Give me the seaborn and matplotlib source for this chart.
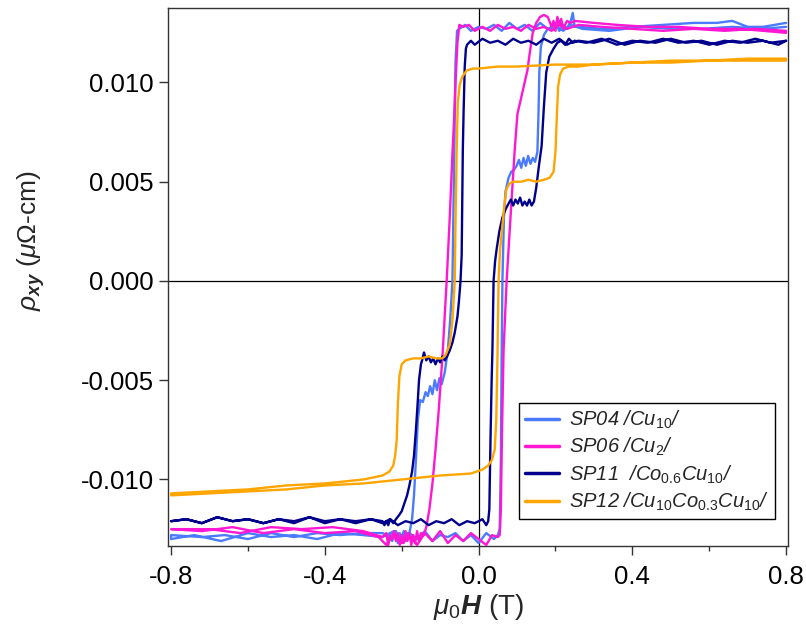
import matplotlib
matplotlib.use("Agg")
import matplotlib.pyplot as plt
import seaborn as sns
import pandas as pd
from matplotlib.ticker import FixedLocator

# ---------------- data ----------------
# SP04 /Cu10/
SP04_H_down = [0.80, 0.74, 0.66, 0.58, 0.50, 0.42, 0.34, 0.27, 0.24, 0.22, 0.20, 0.18, 0.16, 0.14, 0.12, 0.10, 0.08, 0.06, 0.04, 0.02, 0.00, -0.02, -0.035, -0.050,
               -0.056, -0.060, -0.063, -0.066, -0.068, -0.074, -0.080, -0.088, -0.096, -0.102, -0.108, -0.114, -0.120, -0.126, -0.132, -0.138, -0.145, -0.152, -0.158, -0.163, -0.168, -0.173, -0.180,
               -0.185, -0.19, -0.195, -0.20, -0.205, -0.21, -0.215, -0.22, -0.225, -0.23, -0.235, -0.24, -0.25, -0.30, -0.36, -0.42, -0.48, -0.54, -0.60, -0.66, -0.72, -0.80]
SP04_R_down = [0.0128, 0.0127, 0.0128, 0.0127, 0.0127, 0.0128, 0.0126, 0.0127, 0.0129, 0.0126, 0.0129, 0.0127, 0.0130, 0.0126, 0.0129, 0.0127, 0.0130, 0.0126, 0.0129, 0.0127, 0.0128, 0.0126, 0.0129, 0.0127,
               0.0126, 0.0110, 0.0070, 0.0030, 0.0000, -0.0020, -0.0035, -0.0046, -0.0052, -0.0049, -0.0055, -0.0050, -0.0057, -0.0053, -0.0058, -0.0056, -0.0061, -0.0060, -0.0070, -0.0090, -0.0108, -0.0120, -0.0127,
               -0.0127, -0.0131, -0.0126, -0.0130, -0.0127, -0.0132, -0.0126, -0.0129, -0.0131, -0.0127, -0.0130, -0.0128, -0.0127, -0.0127, -0.0128, -0.0127, -0.0129, -0.0127, -0.0130, -0.0128, -0.0129, -0.0128]
SP04_H_up = [-0.80, -0.74, -0.67, -0.60, -0.54, -0.48, -0.42, -0.36, -0.30, -0.25, -0.22, -0.20, -0.18, -0.16, -0.14, -0.12, -0.10, -0.08, -0.06, -0.04, -0.02, 0.00, 0.02, 0.04, 0.05,
             0.055, 0.058, 0.060, 0.062, 0.066, 0.070, 0.078, 0.085, 0.092, 0.099, 0.105, 0.111, 0.117, 0.123, 0.129, 0.135, 0.141, 0.147, 0.153, 0.156, 0.158, 0.162, 0.170, 0.180,
             0.19, 0.20, 0.21, 0.22, 0.23, 0.24, 0.245, 0.25, 0.27, 0.32, 0.40, 0.48, 0.56, 0.62, 0.66, 0.70, 0.74, 0.80]
SP04_R_up = [-0.0130, -0.0128, -0.0131, -0.0127, -0.0129, -0.0128, -0.0130, -0.0127, -0.0128, -0.0129, -0.0126, -0.0131, -0.0127, -0.0130, -0.0126, -0.0131, -0.0128, -0.0129, -0.0127, -0.0131, -0.0128, -0.0132, -0.0127, -0.0130, -0.0128,
             -0.0125, -0.0090, -0.0040, 0.0000, 0.0032, 0.0045, 0.0052, 0.0055, 0.0056, 0.0058, 0.0061, 0.0057, 0.0062, 0.0058, 0.0063, 0.0059, 0.0062, 0.0060, 0.0065, 0.0085, 0.0105, 0.0118, 0.0124, 0.0127,
             0.0127, 0.0130, 0.0126, 0.0129, 0.0127, 0.0131, 0.0135, 0.0128, 0.0128, 0.0127, 0.0128, 0.0129, 0.0130, 0.0130, 0.0131, 0.0128, 0.0128, 0.0130]

# SP06 /Cu2/
SP06_H_down = [0.80, 0.72, 0.64, 0.56, 0.48, 0.40, 0.32, 0.26, 0.23, 0.21, 0.19, 0.17, 0.15, 0.13, 0.11, 0.09, 0.07, 0.05, 0.03, 0.01, -0.01, -0.025, -0.040,
               -0.050, -0.055, -0.060, -0.064, -0.068, -0.075, -0.083, -0.094, -0.104, -0.112, -0.120, -0.128, -0.135, -0.142,
               -0.15, -0.155, -0.16, -0.165, -0.17, -0.175, -0.18, -0.185, -0.19, -0.195, -0.20, -0.205, -0.21, -0.215, -0.22, -0.225, -0.23, -0.235, -0.24, -0.25, -0.30, -0.38, -0.46, -0.54, -0.62, -0.70, -0.80]
SP06_R_down = [0.0126, 0.0127, 0.0126, 0.0127, 0.0126, 0.0127, 0.0128, 0.0129, 0.0127, 0.0129, 0.0126, 0.0128, 0.0127, 0.0129, 0.0126, 0.0128, 0.0127, 0.0129, 0.0126, 0.0128, 0.0126, 0.0129, 0.0128,
               0.0129, 0.0120, 0.0100, 0.0080, 0.0064, 0.0032, 0.0000, -0.0038, -0.0066, -0.0085, -0.0102, -0.0115, -0.0123, -0.0128,
               -0.0127, -0.0131, -0.0126, -0.0132, -0.0128, -0.0133, -0.0127, -0.0131, -0.0126, -0.0132, -0.0128, -0.0133, -0.0127, -0.0131, -0.0126, -0.0130, -0.0128, -0.0133, -0.0127, -0.0129, -0.0126, -0.0124, -0.0125, -0.0124, -0.0127, -0.0125, -0.0125]
SP06_H_up = [-0.80, -0.72, -0.64, -0.56, -0.48, -0.40, -0.32, -0.26, -0.24, -0.22, -0.20, -0.18, -0.16, -0.14, -0.12, -0.10, -0.08, -0.06, -0.04, -0.02, 0.00, 0.02, 0.035, 0.050,
             0.055, 0.058, 0.061, 0.065, 0.073, 0.084, 0.094, 0.101, 0.114, 0.127, 0.134, 0.141, 0.150, 0.160, 0.170,
             0.18, 0.19, 0.195, 0.20, 0.205, 0.21, 0.215, 0.22, 0.23, 0.24, 0.25, 0.30, 0.36, 0.44, 0.52, 0.60, 0.68, 0.74, 0.80]
SP06_R_up = [-0.0125, -0.0126, -0.0124, -0.0127, -0.0125, -0.0127, -0.0126, -0.0129, -0.0133, -0.0127, -0.0132, -0.0128, -0.0133, -0.0127, -0.0131, -0.0126, -0.0132, -0.0128, -0.0131, -0.0127, -0.0130, -0.0133, -0.0128, -0.0129,
             -0.0128, -0.0115, -0.0075, -0.0035, 0.0000, 0.0035, 0.0066, 0.0084, 0.0095, 0.0106, 0.0116, 0.0125, 0.0130, 0.0133, 0.0134,
             0.0133, 0.0128, 0.0131, 0.0126, 0.0133, 0.0129, 0.0132, 0.0127, 0.0131, 0.0130, 0.0131, 0.0130, 0.0129, 0.0128, 0.0128, 0.0127, 0.0127, 0.0126, 0.0125]

# SP11 /Co0.6Cu10/
SP11_H_down = [0.80, 0.76, 0.72, 0.68, 0.64, 0.60, 0.56, 0.52, 0.48, 0.44, 0.40, 0.36, 0.32, 0.28, 0.25, 0.23, 0.21, 0.19, 0.17, 0.15, 0.13, 0.11, 0.09, 0.07, 0.05, 0.03, 0.01, -0.01, -0.02, -0.03,
               -0.033, -0.036, -0.039, -0.041, -0.043, -0.044, -0.047, -0.051, -0.055, -0.062, -0.068, -0.075, -0.082, -0.088, -0.094, -0.100, -0.106, -0.112, -0.118, -0.124, -0.130, -0.136, -0.142, -0.147, -0.150, -0.155, -0.158, -0.163, -0.168, -0.173, -0.180, -0.186, -0.193, -0.200, -0.207, -0.215,
               -0.222, -0.23, -0.235, -0.24, -0.245, -0.25, -0.28, -0.32, -0.36, -0.40, -0.44, -0.48, -0.52, -0.56, -0.60, -0.64, -0.68, -0.72, -0.76, -0.80]
SP11_R_down = [0.0121, 0.0120, 0.0122, 0.0120, 0.0121, 0.0119, 0.0121, 0.0120, 0.0122, 0.0120, 0.0121, 0.0119, 0.0122, 0.0120, 0.0121, 0.0119, 0.0122, 0.0120, 0.0122, 0.0119, 0.0121, 0.0120, 0.0122, 0.0119, 0.0121, 0.0120, 0.0122, 0.0119, 0.0121, 0.0119,
               0.0117, 0.0108, 0.0085, 0.0066, 0.0030, 0.0013, 0.0000, -0.0010, -0.0018, -0.0026, -0.0031, -0.0035, -0.0038, -0.0040, -0.0038, -0.0041, -0.0039, -0.0042, -0.0039, -0.0041, -0.0038, -0.0040, -0.0036, -0.0040, -0.0042, -0.0050, -0.0060, -0.0075, -0.0088, -0.0096, -0.0103, -0.0108, -0.0112, -0.0116, -0.0118, -0.0120,
               -0.0122, -0.0120, -0.0123, -0.0121, -0.0123, -0.0121, -0.0120, -0.0122, -0.0120, -0.0121, -0.0119, -0.0122, -0.0120, -0.0122, -0.0120, -0.0121, -0.0119, -0.0122, -0.0120, -0.0121]
SP11_H_up = [-0.80, -0.76, -0.72, -0.68, -0.64, -0.60, -0.56, -0.52, -0.48, -0.44, -0.40, -0.36, -0.32, -0.28, -0.25, -0.23, -0.21, -0.19, -0.17, -0.15, -0.13, -0.11, -0.09, -0.07, -0.05, -0.03, -0.01, 0.01, 0.02, 0.025,
             0.028, 0.031, 0.034, 0.036, 0.039, 0.043, 0.047, 0.054, 0.062, 0.070, 0.078, 0.084, 0.090, 0.096, 0.102, 0.108, 0.114, 0.120, 0.126, 0.132, 0.138, 0.144, 0.150, 0.157, 0.164, 0.170, 0.176, 0.184, 0.195, 0.205,
             0.215, 0.225, 0.235, 0.245, 0.26, 0.30, 0.34, 0.38, 0.42, 0.46, 0.50, 0.54, 0.58, 0.62, 0.66, 0.70, 0.74, 0.78, 0.80]
SP11_R_up = [-0.0121, -0.0120, -0.0122, -0.0119, -0.0121, -0.0120, -0.0122, -0.0120, -0.0121, -0.0119, -0.0122, -0.0120, -0.0121, -0.0120, -0.0122, -0.0120, -0.0123, -0.0121, -0.0122, -0.0120, -0.0123, -0.0121, -0.0122, -0.0120, -0.0123, -0.0121, -0.0122, -0.0120, -0.0123, -0.0121,
             -0.0115, -0.0080, -0.0050, -0.0035, 0.0000, 0.0010, 0.0016, 0.0025, 0.0032, 0.0036, 0.0039, 0.0041, 0.0038, 0.0041, 0.0039, 0.0042, 0.0038, 0.0040, 0.0038, 0.0041, 0.0038, 0.0040, 0.0047, 0.0058, 0.0068, 0.0088, 0.0105, 0.0113, 0.0117, 0.0120,
             0.0121, 0.0119, 0.0122, 0.0120, 0.0121, 0.0120, 0.0122, 0.0119, 0.0121, 0.0120, 0.0122, 0.0120, 0.0121, 0.0119, 0.0121, 0.0120, 0.0121, 0.0119, 0.0121]

# SP12 /Cu10Co0.3Cu10/
SP12_H_down = [0.80, 0.70, 0.60, 0.50, 0.40, 0.30, 0.20, 0.10, 0.05, 0.00, -0.015, -0.031, -0.042, -0.049, -0.054, -0.057, -0.060, -0.062, -0.068, -0.075, -0.085, -0.094,
               -0.11, -0.13, -0.15, -0.17, -0.19, -0.200, -0.206, -0.210, -0.213, -0.217, -0.222, -0.232, -0.25, -0.30, -0.40, -0.50, -0.60, -0.70, -0.80]
SP12_R_down = [0.0111, 0.0111, 0.0111, 0.0110, 0.0110, 0.0109, 0.0109, 0.0108, 0.0108, 0.0107, 0.0107, 0.0106, 0.0103, 0.0099, 0.0090, 0.0066, 0.0030, 0.0000, -0.0020, -0.0032, -0.0037, -0.0039,
               -0.0039, -0.0038, -0.0039, -0.0039, -0.0040, -0.0042, -0.0048, -0.0062, -0.0080, -0.0088, -0.0093, -0.0096, -0.0098, -0.0100, -0.0102, -0.0103, -0.0105, -0.0106, -0.0107]
SP12_H_up = [-0.80, -0.70, -0.60, -0.50, -0.40, -0.30, -0.20, -0.10, -0.02, 0.010, 0.025, 0.035, 0.042, 0.046, 0.049, 0.052, 0.056, 0.060, 0.066, 0.072, 0.080, 0.090,
             0.11, 0.13, 0.15, 0.17, 0.185, 0.195, 0.200, 0.204, 0.207, 0.212, 0.220, 0.235, 0.26, 0.30, 0.40, 0.50, 0.60, 0.70, 0.80]
SP12_R_up = [-0.0108, -0.0107, -0.0106, -0.0105, -0.0103, -0.0102, -0.0100, -0.0098, -0.0097, -0.0095, -0.0093, -0.0090, -0.0085, -0.0070, -0.0040, 0.0000, 0.0016, 0.0024, 0.0036, 0.0046, 0.0049, 0.0050,
             0.0050, 0.0051, 0.0050, 0.0051, 0.0052, 0.0055, 0.0065, 0.0085, 0.0098, 0.0104, 0.0107, 0.0108, 0.0108, 0.0109, 0.0110, 0.0111, 0.0111, 0.0112, 0.0112]

samples = ["SP04", "SP06", "SP11", "SP12"]
labels = [r"SP04 /Cu$_{\mathit{10}}$/",
          r"SP06 /Cu$_{\mathit{2}}$/",
          r"SP11  /Co$_{\mathit{0.6}}$Cu$_{\mathit{10}}$/",
          r"SP12 /Cu$_{\mathit{10}}$Co$_{\mathit{0.3}}$Cu$_{\mathit{10}}$/"]
colors = ["#4a7bff", "#ff17d4", "#00008c", "#ffa500"]
x_ticks = [-0.8, -0.4, 0.0, 0.4, 0.8]
x_minor = [-0.6, -0.2, 0.2, 0.6]
y_ticks = [-0.010, -0.005, 0.000, 0.005, 0.010]

branches = {
    "SP04": (SP04_H_down + SP04_H_up, SP04_R_down + SP04_R_up),
    "SP06": (SP06_H_down + SP06_H_up, SP06_R_down + SP06_R_up),
    "SP11": (SP11_H_down + SP11_H_up, SP11_R_down + SP11_R_up),
    "SP12": (SP12_H_down + SP12_H_up, SP12_R_down + SP12_R_up),
}

# ---------------- style ----------------
sns.set_theme(style="ticks")
plt.rcParams.update({
    "font.family": ["Liberation Sans", "DejaVu Sans"],
    "mathtext.fontset": "custom",
    "mathtext.rm": "Liberation Sans",
    "mathtext.it": "Liberation Sans:italic",
    "mathtext.bf": "Liberation Sans:bold:italic",
    "axes.unicode_minus": False,
    "axes.edgecolor": "#333333",
    "axes.linewidth": 1.0,
    "xtick.color": "#333333",
    "ytick.color": "#333333",
    "xtick.labelcolor": "black",
    "ytick.labelcolor": "black",
})

fig = plt.figure(figsize=(8.06, 6.35), dpi=100)
ax = fig.add_axes([168 / 806, 1 - 546 / 635, 620 / 806, 538 / 635])

ax.axhline(0, color="black", lw=0.9, zorder=1)
ax.axvline(0, color="black", lw=0.9, zorder=1)

for s, lab, c in zip(samples, labels, colors):
    H, R = branches[s]
    df = pd.DataFrame({"H": H, "R": R})
    sns.lineplot(data=df, x="H", y="R", sort=False, estimator=None,
                 color=c, lw=1.7, label=lab, ax=ax, zorder=3)

ax.set_xlim(-0.808, 0.805)
ax.set_ylim(-0.01335, 0.01375)
ax.xaxis.set_major_locator(FixedLocator(x_ticks))
ax.xaxis.set_minor_locator(FixedLocator(x_minor))
ax.yaxis.set_major_locator(FixedLocator(y_ticks))
ax.set_xticklabels([f"{v:.1f}" for v in x_ticks])
ax.set_yticklabels([f"{v:.3f}" for v in y_ticks])
ax.tick_params(axis="both", which="major", direction="out", length=6.5, width=1,
               labelsize=18.5, pad=3.5)
ax.tick_params(axis="x", which="major", pad=7.5)
ax.tick_params(axis="x", which="minor", direction="out", length=3.5, width=1)

for sp in ax.spines.values():
    sp.set_visible(True)
    sp.set_color("#333333")

ax.set_xlabel(r"$\mu_0\mathbf{H}$ (T)", fontsize=20)
ax.set_ylabel(r"$\rho_{\mathbf{xy}}$ ($\mu$Ω-cm)", fontsize=19)
ax.xaxis.set_label_coords(0.5, -0.086)
ax.yaxis.set_label_coords(-0.195, 0.567)

leg = ax.legend(loc="lower right", bbox_to_anchor=((775 - 168) / 620, (546 - 519) / 538),
                borderaxespad=0, frameon=True, fancybox=False, framealpha=1,
                edgecolor="black", borderpad=0.3, labelspacing=0.25,
                handlelength=1.7, handletextpad=0.5,
                prop={"family": "Liberation Sans", "style": "italic", "size": 14.5})
leg.get_frame().set_linewidth(1.0)
for line in leg.get_lines():
    line.set_linewidth(2.5)

fig.savefig("out.png", dpi=100)
